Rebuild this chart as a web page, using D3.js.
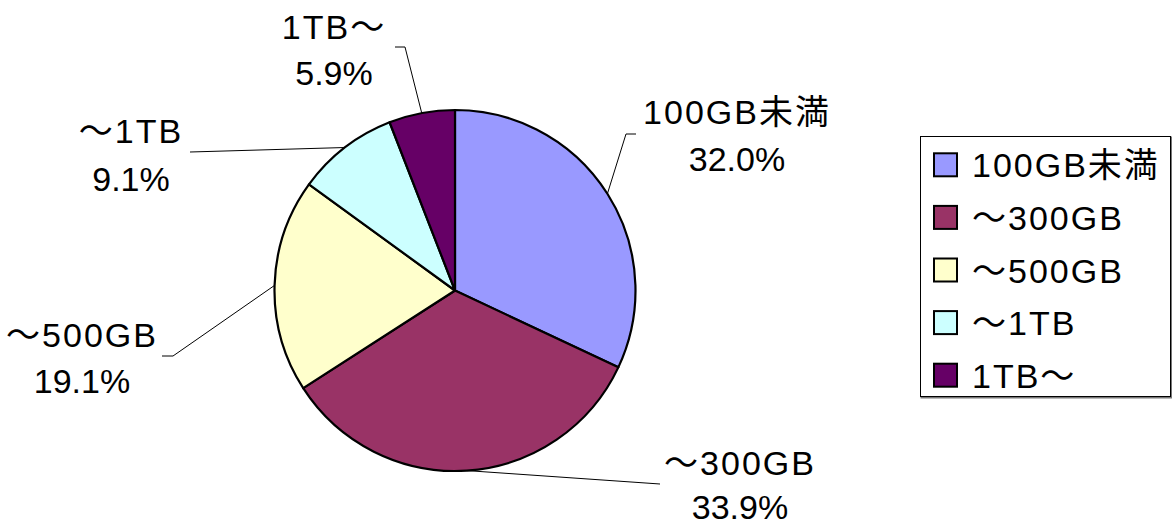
<!DOCTYPE html>
<html>
<head>
<meta charset="utf-8">
<script src="https://cdn.jsdelivr.net/npm/d3@7"></script>
<style>
	body { margin: 0; background: #fff; }
	text { font-family: "Liberation Sans", "Noto Sans CJK JP", sans-serif; font-size: 34px; fill: #000; }
</style>
</head>
<body>
<div id="chart"></div>
<script>
// data
var categories = ["100GB未満", "～300GB", "～500GB", "～1TB", "1TB～"];
var values = [32.0, 33.9, 19.1, 9.1, 5.9];
var colors = ["#9999FF", "#993366", "#FFFFCC", "#CCFFFF", "#660066"];

var width = 1172, height = 527;
var cx = 455, cy = 290.5, radius = 180.5;

// label layout : center x, baseline of first line, line gap, leader elbow / end
var labelLayout = [
	{ x: 737, y: 124, gap: 47, pts: [[626, 134], [636, 134]] },
	{ x: 740, y: 475, gap: 44, pts: [[660, 484]] },
	{ x: 82, y: 347, gap: 46, pts: [[173, 356], [162, 356]] },
	{ x: 131, y: 143, gap: 48, pts: [[190, 152]] },
	{ x: 334, y: 39, gap: 46, pts: [[405, 47], [395, 47]] }
];

var svg = d3.select("#chart").append("svg")
	.attr("width", width)
	.attr("height", height);

var pie = d3.pie().sort(null).value(function (d) { return d; });
var arcs = pie(values);
var arc = d3.arc().innerRadius(0).outerRadius(radius);

var g = svg.append("g").attr("transform", "translate(" + cx + "," + cy + ")");

g.selectAll("path.slice").data(arcs)
	.enter().append("path")
	.attr("class", "slice")
	.attr("d", arc)
	.attr("fill", function (d, i) { return colors[i]; })
	.attr("stroke", "#000")
	.attr("stroke-width", 2.2)
	.attr("stroke-linejoin", "round");

// leader lines
var line = d3.line();
svg.append("g").selectAll("path.leader").data(arcs)
	.enter().append("path")
	.attr("class", "leader")
	.attr("d", function (d, i) {
		var a = (d.startAngle + d.endAngle) / 2;
		var start = [cx + radius * Math.sin(a), cy - radius * Math.cos(a)];
		return line([start].concat(labelLayout[i].pts));
	})
	.attr("fill", "none")
	.attr("stroke", "#000")
	.attr("stroke-width", 1);

// labels
var labels = svg.append("g").selectAll("text.lbl").data(arcs)
	.enter().append("text")
	.attr("class", "lbl")
	.attr("text-anchor", "middle")
	.attr("letter-spacing", 2)
	.attr("x", function (d, i) { return labelLayout[i].x; })
	.attr("y", function (d, i) { return labelLayout[i].y; });
labels.append("tspan")
	.attr("x", function (d, i) { return labelLayout[i].x; })
	.text(function (d, i) { return categories[i]; });
labels.append("tspan")
	.attr("x", function (d, i) { return labelLayout[i].x; })
	.attr("dy", function (d, i) { return labelLayout[i].gap; })
	.attr("letter-spacing", 0)
	.text(function (d) { return d3.format(".1f")(d.data) + "%"; });

// legend
var legend = svg.append("g").attr("transform", "translate(920,136)");
legend.append("rect")
	.attr("x", 1.5).attr("y", 1.5)
	.attr("width", 250).attr("height", 260)
	.attr("fill", "none")
	.attr("stroke", "#777")
	.attr("stroke-width", 2);
legend.append("rect")
	.attr("x", 0.5).attr("y", 0.5)
	.attr("width", 250).attr("height", 260)
	.attr("fill", "#fff")
	.attr("stroke", "#000")
	.attr("stroke-width", 1);

var ly = d3.scaleBand().domain(categories).range([3, 266]);
var items = legend.selectAll("g.item").data(categories)
	.enter().append("g")
	.attr("class", "item")
	.attr("transform", function (d) { return "translate(0," + (ly(d) + ly.bandwidth() / 2) + ")"; });
items.append("rect")
	.attr("x", 14).attr("y", -12)
	.attr("width", 23).attr("height", 23)
	.attr("fill", function (d, i) { return colors[i]; })
	.attr("stroke", "#000")
	.attr("stroke-width", 2);
items.append("text")
	.attr("x", 52)
	.attr("y", 12)
	.attr("letter-spacing", 2)
	.text(function (d) { return d; });
</script>
</body>
</html>
